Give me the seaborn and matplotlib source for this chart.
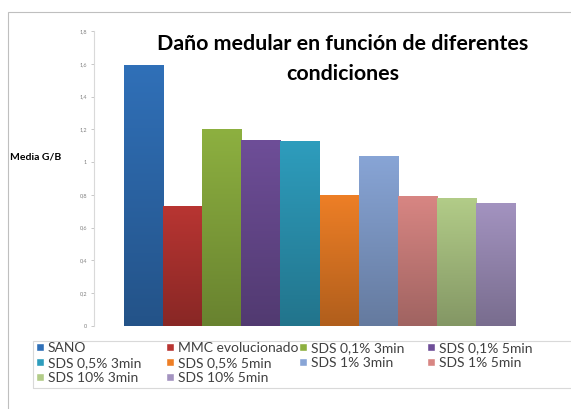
import matplotlib
matplotlib.use("Agg")
import matplotlib.pyplot as plt
import matplotlib.colors as mcolors
from matplotlib.patches import Rectangle
import seaborn as sns
import numpy as np
import pandas as pd

# === Data ===
condiciones = ["SANO", "MMC evolucionado", "SDS 0,1% 3min", "SDS 0,1% 5min",
               "SDS 0,5% 3min", "SDS 0,5% 5min", "SDS 1% 3min", "SDS 1% 5min",
               "SDS 10% 3min", "SDS 10% 5min"]
media_gb = [1.59, 0.73, 1.20, 1.135, 1.13, 0.80, 1.04, 0.795, 0.78, 0.75]
colores = ["#3070B8", "#B83532", "#8DB040", "#6E4E98", "#2E9DBD",
           "#EE7F26", "#88A5D6", "#D88683", "#B2CC88", "#A393C0"]
yticks = [0, 0.2, 0.4, 0.6, 0.8, 1.0, 1.2, 1.4, 1.6, 1.8]
ytick_labels = ["0", "0,2", "0,4", "0,6", "0,8", "1", "1,2", "1,4", "1,6", "1,8"]

df = pd.DataFrame({"cond": condiciones, "val": media_gb})

sns.set_theme(style="white")
plt.rcParams["font.family"] = ["Lato", "DejaVu Sans"]

fig = plt.figure(figsize=(5.71, 4.09), dpi=100)
W, H = 571, 409
ax = fig.add_axes([94 / W, 1 - 326 / H, (545 - 94) / W, (326 - 31) / H])

sns.barplot(data=df, x="cond", y="val", hue="cond", palette=colores,
            width=1.0, legend=False, saturation=1, ax=ax)

# vertical gradient on each bar (lighter top, darker bottom)
grad = np.linspace(0, 1, 256).reshape(-1, 1)
for patch, c in zip(ax.patches, colores):
    x0, y0 = patch.get_x(), patch.get_y()
    w, h = patch.get_width(), patch.get_height()
    top = np.array(mcolors.to_rgb(c))
    bot = top * 0.74
    img = bot + (top - bot) * grad[..., None]
    im = ax.imshow(img, extent=[x0, x0 + w, y0, y0 + h], origin="lower",
                   aspect="auto", zorder=patch.get_zorder() + 0.1)
    im.set_clip_path(patch)
    patch.set_edgecolor("none")

# axis styling
n = len(condiciones)
pad = (451 / 39.1 - n) / 2
ax.set_xlim(-0.5 - pad, n - 0.5 + pad)
ax.set_ylim(0, 1.8)
ax.set_yticks(yticks)
ax.set_yticklabels(ytick_labels, fontsize=4, color="#7F7F7F")
ax.set_xticks([])
ax.set_xlabel("")
ax.set_ylabel("")
ax.tick_params(axis="y", length=2, width=0.6, color="#BFBFBF", pad=3, left=True)
for s in ["top", "right", "bottom"]:
    ax.spines[s].set_visible(False)
ax.spines["left"].set_color("#D9D9D9")
ax.spines["left"].set_linewidth(0.8)

# title and y label
fig.text(343 / W, 1 - 59 / H, "Daño medular en función de diferentes\ncondiciones",
         ha="center", va="center", fontsize=15.4, fontweight="bold",
         linespacing=1.6, color="#000000")
fig.text(10 / W, 1 - 157 / H, "Media G/B", ha="left", va="center",
         fontsize=7.5, fontweight="bold", color="#000000")

# legend: four single-column legends, row-major order like the original
col_x = [34, 164, 297, 425]
for j, x in enumerate(col_x):
    idx = list(range(j, n, 4))
    handles = [Rectangle((0, 0), 1, 1, facecolor=colores[i]) for i in idx]
    labels = [condiciones[i] for i in idx]
    leg = fig.legend(handles, labels, ncol=1, loc="upper left",
                     bbox_to_anchor=(x / W, 1 - 340 / H), fontsize=10,
                     frameon=False, handlelength=0.55, handleheight=0.55,
                     handletextpad=0.3, labelspacing=0.2, borderpad=0.15,
                     borderaxespad=0)
    for t in leg.get_texts():
        t.set_color("#404040")

# legend frame, runs off the right edge as in the original
fig.patches.append(Rectangle((33 / W, 1 - 388 / H), (600 - 33) / W, 47 / H,
                             transform=fig.transFigure, fill=False,
                             edgecolor="#D9D9D9", linewidth=0.8))

# outer chart border
fig.patches.append(Rectangle((8 / W, -0.1), 1.2, 1 - 12 / H + 0.1,
                             transform=fig.transFigure, fill=False,
                             edgecolor="#BFBFBF", linewidth=0.8))

fig.savefig("out.png", dpi=100)
